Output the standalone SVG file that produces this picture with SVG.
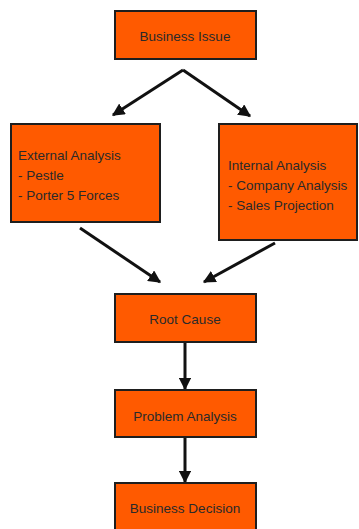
<svg xmlns="http://www.w3.org/2000/svg" width="359" height="529" viewBox="0 0 359 529">
  <style>
    .box { fill: #ff5a00; stroke: #1e1e1e; stroke-width: 2; }
    .lbl { font-family: "Liberation Sans", Arial, sans-serif; font-size: 13.5px; fill: #2a2a2a; }
    .mid { text-anchor: middle; }
    .conn { stroke: #111; stroke-width: 3; fill: none; marker-end: url(#head); }
  </style>
  <defs>
    <marker id="head" viewBox="0 0 10 10" refX="9" refY="5" markerWidth="4.2" markerHeight="4.2" orient="auto" markerUnits="strokeWidth">
      <path d="M0,0 L10,5 L0,10 z" fill="#111"/>
    </marker>
  </defs>
  <rect width="359" height="529" fill="#ffffff"/>

  <g id="connectors">
    <line class="conn" x1="183" y1="70" x2="113" y2="115"/>
    <line class="conn" x1="183" y1="70" x2="250" y2="116"/>
    <line class="conn" x1="80" y1="228" x2="160" y2="282"/>
    <line class="conn" x1="275" y1="243" x2="204" y2="282"/>
    <line class="conn" x1="185" y1="342" x2="185" y2="389"/>
    <line class="conn" x1="185" y1="437" x2="185" y2="482"/>
  </g>

  <g id="business-issue">
    <rect class="box" x="115" y="11" width="141" height="48"/>
    <text class="lbl mid" x="185" y="41">Business Issue</text>
  </g>

  <g id="external-analysis">
    <rect class="box" x="11" y="124" width="149" height="98"/>
    <text class="lbl" x="18" y="160">External Analysis</text>
    <text class="lbl" x="18" y="180">- Pestle</text>
    <text class="lbl" x="18" y="200">- Porter 5 Forces</text>
  </g>

  <g id="internal-analysis">
    <rect class="box" x="219" y="124" width="138" height="116"/>
    <text class="lbl" x="228" y="170">Internal Analysis</text>
    <text class="lbl" x="228" y="190">- Company Analysis</text>
    <text class="lbl" x="228" y="210">- Sales Projection</text>
  </g>

  <g id="root-cause">
    <rect class="box" x="115" y="294" width="141" height="48"/>
    <text class="lbl mid" x="185" y="324">Root Cause</text>
  </g>

  <g id="problem-analysis">
    <rect class="box" x="115" y="390" width="141" height="47"/>
    <text class="lbl mid" x="185" y="421">Problem Analysis</text>
  </g>

  <g id="business-decision">
    <rect class="box" x="115" y="483" width="141" height="60"/>
    <text class="lbl mid" x="185" y="513">Business Decision</text>
  </g>
</svg>
